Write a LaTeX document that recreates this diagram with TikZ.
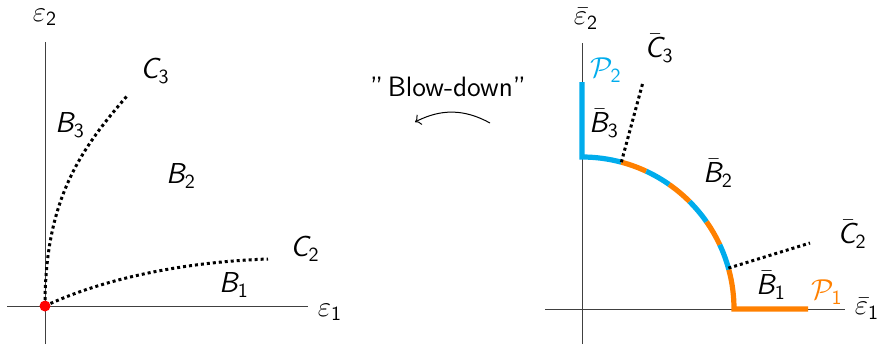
\documentclass[tikz,border=0pt]{standalone}
\usepackage{amsmath,amssymb}
\usepackage{xcolor}
\usepackage{tikz}
\usetikzlibrary{arrows.meta,positioning,calc}
\DeclareMathAlphabet{\mathsfit}{OT1}{cmss}{m}{sl}
\definecolor{pblue}{RGB}{0,172,236}
\definecolor{porange}{RGB}{255,128,0}
\newcommand{\sv}[2]{$\mathsfit{#1}_{\mathsf{#2}}$}
\newcommand{\svb}[2]{$\bar{\mathsfit{#1}}_{\mathsf{#2}}$}

\begin{document}
\begin{tikzpicture}[
  x=0.5pt, y=0.5pt,
  axis/.style={draw=black!75, line width=0.5pt},
  curve/.style={line width=1.5pt, dash pattern=on 1.5pt off 1.5pt},
  pline/.style={line width=2.6pt},
  lab/.style={font=\fontsize{14}{16}\selectfont\sffamily, inner sep=1pt},
  >=To,
]
\useasboundingbox (0,0) rectangle (881,344);
% left picture
\coordinate (O) at (45,38);
\draw[axis] (7,38) -- (308,38);
\draw[axis] (45,0) -- (45,302);
\node[lab] (e1) at (330,32) {$\varepsilon_{\mathsf{1}}$};
\node[lab] (e2) at (45,327) {$\varepsilon_{\mathsf{2}}$};
\coordinate (c3) at (127,248);
\coordinate (c2) at (268,85);
\draw[curve] (O) .. controls (45,144) and (80,194) .. (c3);
\draw[curve] (O) .. controls (100,64) and (180,82) .. (c2);
\fill[red] (O) circle (5.5);
\node[lab] (C3) at (155,273) {\sv{C}{3}};
\node[lab] (C2) at (305,95) {\sv{C}{2}};
\node[lab] (B1) at (234,59) {\sv{B}{1}};
\node[lab] (B2) at (181,168) {\sv{B}{2}};
\node[lab] (B3) at (70,219) {\sv{B}{3}};
% blow-down
\node[lab] (bd) at (448,257) {"\,Blow-down"};
\coordinate (a1) at (490,221);
\coordinate (a2) at (415,222);
\draw[->, line width=0.5pt] (a1) to[bend right=28] (a2);
% right picture
\coordinate (Ob) at (582,35);
\draw[axis] (545,35) -- (845,35);
\draw[axis] (582,0) -- (582,301);
\node[lab] (eb1) at (867,35) {$\bar\varepsilon_{\mathsf{1}}$};
\node[lab] (eb2) at (586,325) {$\bar\varepsilon_{\mathsf{2}}$};
\draw[pline, pblue] (582,262) -- (582,187) arc (90:75:152);
\foreach \a/\b/\c in {75/65/porange, 65/55/pblue, 55/45/porange,
  45/35/pblue, 35/25/porange, 25/15/pblue}
  \draw[pline, \c] ($(Ob)+(\a:152)$) arc (\a:\b:152);
\draw[pline, porange] ($(Ob)+(15:152)$) arc (15:0:152) -- (808,35);
\coordinate (p3) at ($(Ob)+(75:152)$);
\coordinate (p2) at ($(Ob)+(15.6:152)$);
\coordinate (cb3) at (643,262);
\coordinate (cb2) at (810,101);
\draw[curve] (p3) -- (cb3);
\draw[curve] (p2) -- (cb2);
\node[lab] (Cb3) at (659,296) {\svb{C}{3}};
\node[lab] (Cb2) at (852,110) {\svb{C}{2}};
\node[lab] (Bb3) at (604,221) {\svb{B}{3}};
\node[lab] (Bb2) at (718,171) {\svb{B}{2}};
\node[lab] (Bb1) at (771,59) {\svb{B}{1}};
\node[lab, text=pblue] (P2) at (606,274) {$\mathcal{P}_{\mathsf{2}}$};
\node[lab, text=porange] (P1) at (827,52) {$\mathcal{P}_{\mathsf{1}}$};
\end{tikzpicture}
\end{document}
